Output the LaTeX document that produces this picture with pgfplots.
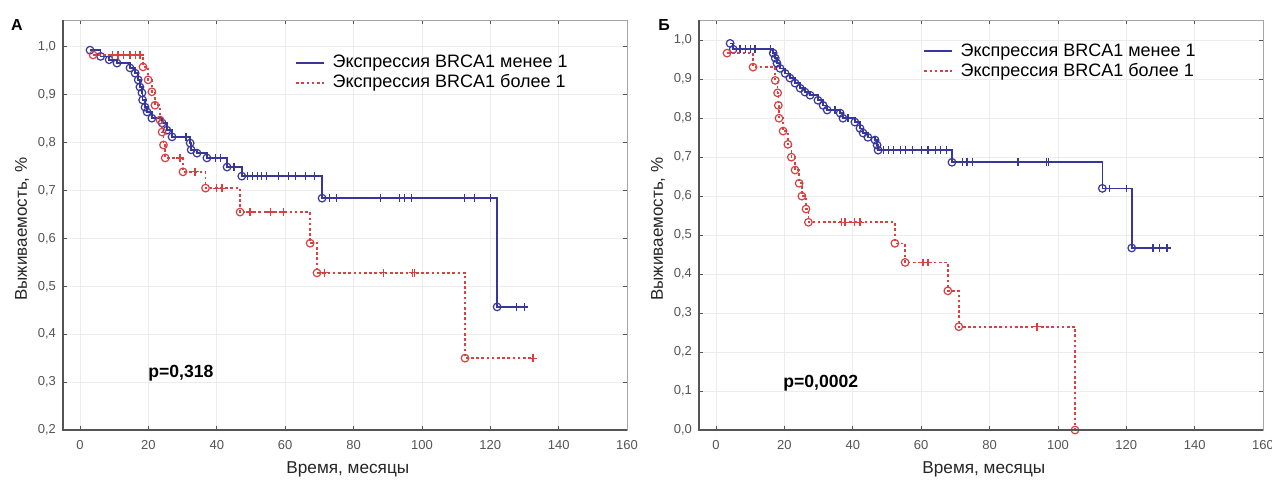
\documentclass[border=0pt]{standalone}
\usepackage{fontspec}
\setmainfont{Liberation Sans}
\usepackage{pgfplots}
\pgfplotsset{compat=1.18}
\usepackage{pgfplotstable}
\definecolor{kmblue}{RGB}{55,55,155}
\definecolor{kmred}{RGB}{215,65,65}
\definecolor{axgray}{RGB}{85,85,85}

% x  y  c (o = event, p = censored)
\pgfplotstableread{
x y c
2.9 0.993 o
6 0.980 o
8.5 0.973 o
10.8 0.966 o
14.6 0.956 o
16.1 0.945 o
17 0.931 o
17.5 0.916 o
18.1 0.904 o
18.3 0.889 o
19 0.874 o
19.6 0.864 o
21 0.851 o
24 0.841 o
25.4 0.826 o
26.9 0.812 o
31 0.812 p
32.2 0.799 o
32.5 0.785 o
34.2 0.778 o
37.1 0.768 o
39.5 0.768 p
41 0.768 p
43 0.749 o
45 0.749 p
47.3 0.730 o
49 0.730 p
50.5 0.730 p
52 0.730 p
53 0.730 p
54.5 0.730 p
58 0.730 p
61 0.730 p
63 0.730 p
66 0.730 p
68.5 0.730 p
70.8 0.684 o
73 0.684 p
75 0.684 p
88 0.684 p
93.5 0.684 p
95 0.684 p
97 0.684 p
112.5 0.684 p
115.5 0.684 p
120 0.684 p
122 0.457 o
127.7 0.457 p
130 0.457 p
}\Aless
\pgfplotstableread{
x y c
3.8 0.983 o
9.4 0.983 p
11.1 0.983 p
12.6 0.983 p
14.6 0.983 p
16.1 0.983 p
17.5 0.983 p
18.4 0.958 o
19.9 0.931 o
21 0.906 o
21.9 0.878 o
23.4 0.847 o
24 0.822 o
24.4 0.795 o
24.9 0.768 o
29.2 0.768 p
30.1 0.739 o
33.6 0.739 p
36.7 0.705 o
40 0.705 p
41.5 0.705 p
46.8 0.655 o
49.7 0.655 p
55.6 0.655 p
59.4 0.655 p
67.3 0.590 o
69.3 0.528 o
71.6 0.528 p
88.7 0.528 p
97.2 0.528 p
97.8 0.528 p
112.6 0.350 o
132.5 0.350 p
}\Amore
\pgfplotstableread{
x y c
4.1 0.992 o
5 0.977 o
7 0.977 p
8.5 0.977 p
10 0.977 p
11.4 0.977 p
15.8 0.977 p
16.7 0.967 o
17.3 0.954 o
17.8 0.941 o
18.7 0.928 o
20.2 0.915 o
21.6 0.903 o
23.1 0.890 o
24.6 0.877 o
26 0.867 o
27.5 0.859 o
29.8 0.846 o
31.3 0.833 o
32.5 0.821 o
34.8 0.821 p
36.3 0.813 o
37.1 0.800 o
38.6 0.800 p
40.6 0.790 o
42.1 0.774 o
43 0.762 o
44.4 0.751 o
46.5 0.744 o
47.1 0.731 o
47.4 0.718 o
49 0.718 p
50.5 0.718 p
52 0.718 p
54 0.718 p
55.5 0.718 p
57.5 0.718 p
60 0.718 p
62 0.718 p
64.3 0.718 p
65.7 0.718 p
67.5 0.718 p
69 0.687 o
72 0.687 p
73.4 0.687 p
75 0.687 p
88.3 0.687 p
96.7 0.687 p
97.3 0.687 p
113 0.620 o
115.2 0.620 p
120 0.620 p
121.6 0.467 o
127.8 0.467 p
129.8 0.467 p
131.9 0.467 p
}\Bless
\pgfplotstableread{
x y c
3.2 0.967 o
10.8 0.931 o
17.3 0.897 o
18 0.865 o
18.2 0.833 o
18.4 0.800 o
19.6 0.767 o
21 0.733 o
22 0.700 o
23.1 0.667 o
24.3 0.633 o
25.1 0.600 o
26.3 0.567 o
27 0.533 o
36.8 0.533 p
37.7 0.533 p
40.6 0.533 p
42.1 0.533 p
52.3 0.479 o
55.3 0.430 o
60.5 0.430 p
62 0.430 p
67.8 0.357 o
71 0.265 o
93.9 0.265 p
105 0 o
}\Bmore

\pgfplotsset{
  kmpanel/.style={
    scale only axis, width=282pt, height=205pt, anchor=south west,
    xmin=-5, xmax=160, xtick={0,20,...,160},
    tick pos=both, tick align=inside, major tick length=2pt,
    tick style={axgray, thin},
    grid=major, major grid style={gray!15, thin},
    axis line style={gray!70, thin},
    /pgf/number format/assume math mode=true,
    tick label style={font=\fontsize{6.5}{7}\selectfont, text=axgray},
    xticklabel style={yshift=-1.5pt},
    yticklabel style={/pgf/number format/.cd, fixed, fixed zerofill, precision=1, use comma},
    xlabel={Время, месяцы}, ylabel={Выживаемость, \%},
    every axis x label/.style={at={(rel axis cs:0.505,0)}, anchor=center, yshift=-19.5pt,
      font=\fontsize{8.6}{10}\selectfont, text=black!85},
    every axis y label/.style={at={(rel axis cs:0,0.49)}, anchor=center, rotate=90, yshift=20.5pt,
      font=\fontsize{8.5}{10}\selectfont, text=black!85},
    legend style={draw=none, fill=none, inner sep=0pt, font=\fontsize{9}{11}\selectfont,
      nodes={inner sep=1pt}, legend cell align=left},
    legend image code/.code={\draw[#1, line width=1pt] (0cm,0cm) -- (0.48cm,0cm); \path (0.59cm,0cm);},
    clip mode=individual,
  },
  lineless/.style={kmblue, line width=0.8pt},
  linemore/.style={kmred, line width=0.8pt, dash pattern=on 1.3pt off 1.3pt},
  markless/.style={only marks, scatter, point meta=explicit symbolic,
    scatter/classes={o={mark=o, kmblue}, p={mark=+, kmblue}},
    mark options={line width=0.6pt, mark size=1.9pt, solid}},
  markmore/.style={only marks, scatter, point meta=explicit symbolic,
    scatter/classes={o={mark=o, kmred}, p={mark=+, kmred}},
    mark options={line width=0.6pt, mark size=1.9pt, solid}},
}

\begin{document}
\begin{tikzpicture}
\useasboundingbox[fill=white] (0,0) rectangle (636pt,240.5pt);

\begin{axis}[kmpanel, at={(31.5pt,25.5pt)}, ymin=0.2, ymax=1.056,
  ytick={0.2,0.3,...,1.0},
  legend style={at={(rel axis cs:0.411,0.92)}, anchor=north west}]
  \addplot[const plot, lineless, forget plot] table[x=x, y=y] {\Aless};
  \addplot[markless, forget plot] table[x=x, y=y, meta=c] {\Aless};
  \addplot[const plot, linemore, forget plot] table[x=x, y=y] {\Amore};
  \addplot[markmore, forget plot] table[x=x, y=y, meta=c] {\Amore};
  \addlegendimage{lineless}
  \addlegendentry{Экспрессия BRCA1 менее 1}
  \addlegendimage{linemore}
  \addlegendentry{Экспрессия BRCA1 более 1}
  \draw[axgray, line width=1pt] (rel axis cs:0,1) -- (rel axis cs:0,0) -- (rel axis cs:1,0);
  \node[anchor=west, font=\fontsize{8.8}{10}\selectfont\bfseries] at (axis cs:17.9,0.318) {p=0,318};
\end{axis}

\begin{axis}[kmpanel, at={(349.5pt,25.5pt)}, ymin=0, ymax=1.052,
  ytick={0,0.1,...,1.0},
  legend style={at={(rel axis cs:0.397,0.948)}, anchor=north west}]
  \addplot[const plot, lineless, forget plot] table[x=x, y=y] {\Bless};
  \addplot[markless, forget plot] table[x=x, y=y, meta=c] {\Bless};
  \addplot[const plot, linemore, forget plot] table[x=x, y=y] {\Bmore};
  \addplot[markmore, forget plot] table[x=x, y=y, meta=c] {\Bmore};
  \addlegendimage{lineless}
  \addlegendentry{Экспрессия BRCA1 менее 1}
  \addlegendimage{linemore}
  \addlegendentry{Экспрессия BRCA1 более 1}
  \draw[axgray, line width=1pt] (rel axis cs:0,1) -- (rel axis cs:0,0) -- (rel axis cs:1,0);
  \node[anchor=west, font=\fontsize{8.8}{10}\selectfont\bfseries] at (axis cs:17.6,0.12) {p=0,0002};
\end{axis}

\node[font=\fontsize{8}{9}\selectfont\bfseries] at (8.5pt,228pt) {А};
\node[font=\fontsize{8}{9}\selectfont\bfseries] at (332pt,228pt) {Б};
\end{tikzpicture}
\end{document}
